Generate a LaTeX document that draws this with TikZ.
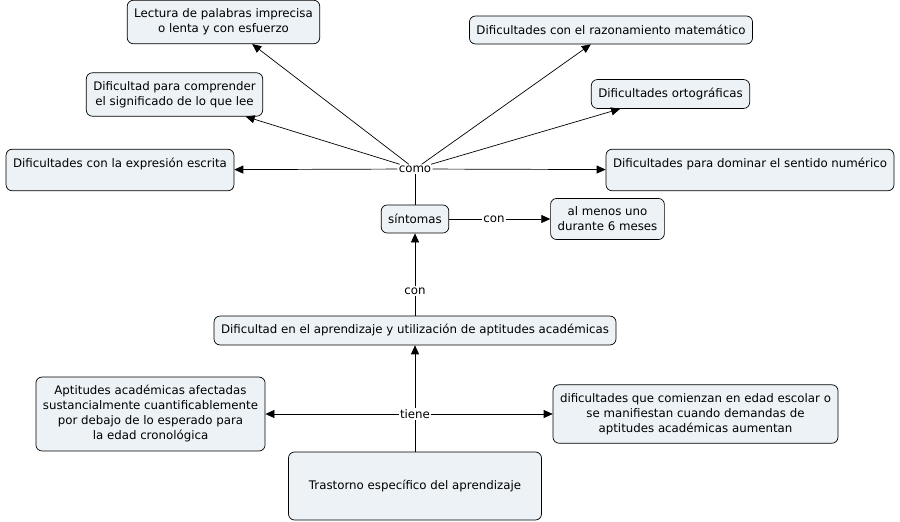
\documentclass[tikz,border=0pt]{standalone}
\usepackage{fontspec}
\setmainfont{DejaVu Sans}
\usetikzlibrary{arrows.meta}
\definecolor{relleno}{RGB}{236,242,245}
\tikzset{
  concepto/.style={draw, fill=relleno, rounded corners=6pt, align=center,
    inner xsep=7pt, inner ysep=8.5pt, minimum height=28pt,
    font=\fontsize{11.8}{15}\selectfont},
  enlace/.style={inner sep=1pt, font=\fontsize{11.8}{15}\selectfont},
  flecha/.style={-{Triangle[length=9pt,width=8pt]}}
}

\begin{document}
\begin{tikzpicture}[x=1pt,y=-1pt,line width=0.7pt]
\useasboundingbox (0,0) rectangle (900,522);
% conceptos
\node[concepto] (lectura) at (223.5,22) {Lectura de palabras imprecisa\\o lenta y con esfuerzo};
\node[concepto] (comprender) at (174.5,94.5) {Dificultad para comprender\\el significado de lo que lee};
\node[concepto] (escrita) at (120,170) {Dificultades con la expresión escrita\\ \mbox{}};
\node[concepto] (razonamiento) at (611,30) {Dificultades con el razonamiento matemático};
\node[concepto] (ortograficas) at (670.5,94) {Dificultades ortográficas};
\node[concepto] (numerico) at (750,170) {Dificultades para dominar el sentido numérico\\ \mbox{}};
\node[concepto] (sintomas) at (415,219) {síntomas};
\node[concepto] (meses) at (607.5,219) {al menos uno\\durante 6 meses};
\node[concepto] (dificultad) at (415,330.5) {Dificultad en el aprendizaje y utilización de aptitudes académicas};
\node[concepto] (aptitudes) at (150.5,414) {Aptitudes académicas afectadas\\sustancialmente cuantificablemente\\por debajo de lo esperado para\\la edad cronológica};
\node[concepto] (comienzan) at (695.5,414) {dificultades que comienzan en edad escolar o\\se manifiestan cuando demandas de\\aptitudes académicas aumentan};
\node[concepto, minimum width=253pt, minimum height=68pt] (trastorno) at (415,486) {Trastorno específico del aprendizaje};
% enlaces
\node[enlace] (como) at (415,169) {como};
\node[enlace] (con1) at (494,219) {con};
\node[enlace] (con2) at (415,291) {con};
\node[enlace] (tiene) at (415,414) {tiene};
% flechas
\draw (trastorno) -- (tiene);
\draw[flecha] (tiene) -- (dificultad);
\draw[flecha] (tiene) -- (aptitudes);
\draw[flecha] (tiene) -- (comienzan);
\draw (dificultad) -- (con2);
\draw[flecha] (con2) -- (sintomas);
\draw (sintomas) -- (con1);
\draw[flecha] (con1) -- (meses);
\draw (sintomas) -- (como);
\draw[flecha] (como) -- (lectura);
\draw[flecha] (como) -- (comprender);
\draw[flecha] (como) -- (escrita);
\draw[flecha] (como) -- (razonamiento);
\draw[flecha] (como) -- (ortograficas);
\draw[flecha] (como) -- (numerico);
\end{tikzpicture}
\end{document}
